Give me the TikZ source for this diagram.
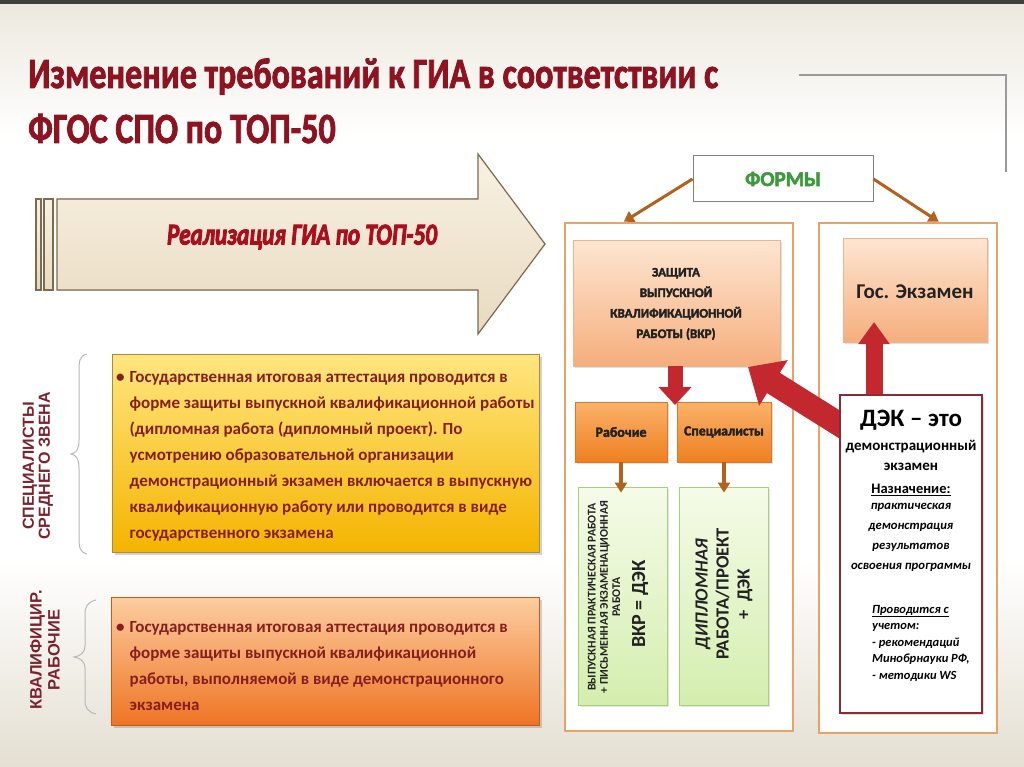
\documentclass[tikz,border=0pt]{standalone}
\usepackage{fontspec}
\setmainfont{Carlito}
\newfontfamily\arialf{Liberation Sans}
\usetikzlibrary{arrows.meta,shadows,calc}
\pgfdeclarelayer{fg}
\pgfsetlayers{main,fg}
\definecolor{titred}{HTML}{8E1321}
\definecolor{realred}{HTML}{A8101E}
\definecolor{txtred}{HTML}{861F1F}
\definecolor{sidered}{HTML}{7B2430}
\definecolor{arrbord}{HTML}{7E6A4C}
\definecolor{panelor}{HTML}{E8A468}
\definecolor{brownar}{HTML}{B2611E}
\definecolor{redar}{HTML}{C3282E}
\definecolor{formgreen}{HTML}{3C9A3C}
\definecolor{bgtop}{HTML}{ECE8DD}
\definecolor{bgbot}{HTML}{E4DFD2}
\definecolor{topbar}{HTML}{3F3F3F}
\definecolor{pchbd}{HTML}{E9B48E}
\definecolor{pchtop}{HTML}{FDE6D2}
\definecolor{pchbot}{HTML}{F6AE7C}
\definecolor{orbd}{HTML}{DA7A28}
\definecolor{ortop}{HTML}{FBB26B}
\definecolor{orbot}{HTML}{EE7F1F}
\definecolor{grbd}{HTML}{AACF7A}
\definecolor{grtop}{HTML}{F5FBE8}
\definecolor{grbot}{HTML}{D4EEAE}
\definecolor{yeltop}{HTML}{FFE680}
\definecolor{yelbot}{HTML}{F4B400}
\definecolor{yelbd}{HTML}{B08A30}
\definecolor{orgtop}{HTML}{FCCDA0}
\definecolor{orgbot}{HTML}{EF7424}
\definecolor{arrtop}{HTML}{F8F1E3}
\definecolor{arrbot}{HTML}{E8DAC0}
\definecolor{dekbd}{HTML}{8B2A35}
\definecolor{decoline}{HTML}{9A9A9A}
\definecolor{braceg}{HTML}{B8B8B8}
\definecolor{dtext}{HTML}{222222}
\newlength\twid
\newcommand\tfont{\fontsize{43}{43}\selectfont\bfseries}
\newcommand\fakebold[2][0.9]{\special{pdf:literal direct 2 Tr #1 w}#2\special{pdf:literal direct 0 Tr 1 w}}
\begin{document}
\settowidth\twid{\tfont Изменение требований к ГИА в соответствии с}
\pgfmathsetmacro\tsc{690/\twid}
\begin{tikzpicture}[x=1pt,y=-1pt,
  peach/.style={draw=pchbd, line width=0.8pt, top color=pchtop, bottom color=pchbot},
  orbox/.style={draw=orbd, line width=0.8pt, top color=ortop, bottom color=orbot},
  grbox/.style={draw=grbd, line width=0.8pt, top color=grtop, bottom color=grbot},
  panel/.style={draw=panelor, line width=2.5pt, fill=white},
  brarrow/.style={draw=brownar, line width=3pt, -{Triangle[width=12pt,length=10pt]}},
  para/.style={inner sep=0pt, align=left, text=txtred, font=\fontsize{17}{26}\selectfont\bfseries},
  sidelab/.style={rotate=90, align=center, text=sidered, inner sep=0pt},
  plain/.style={inner sep=0pt, align=center},
]
\useasboundingbox (0,0) rectangle (1024,767);
% background
\fill[top color=bgtop, bottom color=white] (0,0) rectangle (1024,140);
\fill[white] (0,140) rectangle (1024,560);
\fill[top color=white, bottom color=bgbot] (0,560) rectangle (1024,767);
\fill[topbar] (0,0) rectangle (1024,4);
% decorative corner line
\coordinate (dl1) at (799,75);
\coordinate (dl2) at (1006,75);
\coordinate (dl3) at (1006,172);
\draw[decoline, line width=1.5pt] (dl1) -- (dl2) -- (dl3);
% title
\node[anchor=base west, inner sep=0pt, text=titred] (title1) at (28,88)
  {\fakebold{\scalebox{\tsc}[1]{\tfont Изменение требований к ГИА в соответствии с}}};
\node[anchor=base west, inner sep=0pt, text=titred] (title2) at (28,143)
  {\fakebold{\scalebox{\tsc}[1]{\tfont ФГОС СПО по ТОП-50}}};
% big arrow
\filldraw[draw=arrbord, line width=1.2pt, top color=arrtop, bottom color=arrbot]
  (57,199) -- (478,199) -- (478,154) -- (545,244) -- (478,334) -- (478,290) -- (57,290) -- cycle;
\filldraw[draw=arrbord, line width=1.2pt, top color=arrtop, bottom color=arrbot] (36,199) rectangle (41,290);
\filldraw[draw=arrbord, line width=1.2pt, top color=arrtop, bottom color=arrbot] (44,199) rectangle (53,290);
\node[inner sep=0pt, text=realred] (real) at (302,237)
  {\fakebold[1.1]{\resizebox{270pt}{\height}{\fontsize{30}{30}\selectfont\bfseries\itshape Реализация ГИА по ТОП-50}}};
% side labels and braces
\node[sidelab, font=\arialf\bfseries\fontsize{16}{16}\selectfont] (lab1) at (38,466) {СПЕЦИАЛИСТЫ\\СРЕДНЕГО ЗВЕНА};
\node[sidelab, font=\arialf\bfseries\fontsize{16.5}{18}\selectfont] (lab2) at (45,650) {КВАЛИФИЦИР.\\РАБОЧИЕ};
\draw[braceg, line width=1pt] (87,354) .. controls (79,356) and (79,362) .. (79,372) -- (79,440)
  .. controls (79,450) and (76,453) .. (71,454) .. controls (76,455) and (79,458) .. (79,468) -- (79,536)
  .. controls (79,546) and (79,552) .. (87,554);
\draw[braceg, line width=1pt] (96,600) .. controls (88,602) and (85,606) .. (85,614) -- (85,646)
  .. controls (85,653) and (80,656) .. (74,657) .. controls (80,658) and (85,661) .. (85,668) -- (85,700)
  .. controls (85,708) and (88,712) .. (96,714);
% yellow box
\node[draw=yelbd, line width=0.6pt, top color=yeltop, bottom color=yelbot,
  minimum width=427pt, minimum height=198pt, inner sep=0pt,
  drop shadow={shadow xshift=3pt, shadow yshift=-3pt, opacity=0.35}] (yel) at (325.5,453) {};
\node[para, anchor=north west] (yeltxt) at (116,371.5)
 {\textbullet\hspace{5pt}Государственная итоговая аттестация проводится в\\
  \phantom{\textbullet}\hspace{5pt}форме защиты выпускной квалификационной работы\\
  \phantom{\textbullet}\hspace{5pt}(дипломная работа (дипломный проект). По\\
  \phantom{\textbullet}\hspace{5pt}усмотрению образовательной организации\\
  \phantom{\textbullet}\hspace{5pt}демонстрационный экзамен включается в выпускную\\
  \phantom{\textbullet}\hspace{5pt}квалификационную работу или проводится в виде\\
  \phantom{\textbullet}\hspace{5pt}государственного экзамена};
% orange box
\node[draw=orgbot!80!black, line width=0.6pt, top color=orgtop, bottom color=orgbot,
  minimum width=428pt, minimum height=128pt, inner sep=0pt,
  drop shadow={shadow xshift=3pt, shadow yshift=-3pt, opacity=0.35}] (org) at (325,661) {};
\node[para, anchor=north west] (orgtxt) at (116,621.5)
 {\textbullet\hspace{5pt}Государственная итоговая аттестация проводится в\\
  \phantom{\textbullet}\hspace{5pt}форме защиты выпускной квалификационной\\
  \phantom{\textbullet}\hspace{5pt}работы, выполняемой в виде демонстрационного\\
  \phantom{\textbullet}\hspace{5pt}экзамена};
% FORMS
\node[draw=gray, line width=1pt, fill=white, minimum width=180pt, minimum height=46pt, inner sep=0pt,
  text=formgreen, font=\fontsize{21}{21}\selectfont\bfseries] (forms) at (783,179) {\fakebold[0.5]{ФОРМЫ}};
% panels
\node[panel, minimum width=228pt, minimum height=508pt, inner sep=0pt] (lpanel) at (679,477) {};
\node[panel, minimum width=178pt, minimum height=510pt, inner sep=0pt] (rpanel) at (908,478) {};
\draw[brarrow] (forms.west) -- ([xshift=60pt]lpanel.north west);
\draw[brarrow] (forms.east) -- ([xshift=121pt]rpanel.north west);
% VKR box
\node[peach, minimum width=207pt, minimum height=126pt, inner sep=0pt,
  drop shadow={shadow xshift=2pt, shadow yshift=-2pt, opacity=0.25}] (vkr) at (676.5,303) {};
\node[plain, font=\fontsize{13}{20.5}\selectfont\bfseries, text=dtext] (vkrtxt) at (676,304)
  {\fakebold[0.35]{ЗАЩИТА}\\\fakebold[0.35]{ВЫПУСКНОЙ}\\\fakebold[0.35]{КВАЛИФИКАЦИОННОЙ}\\\fakebold[0.35]{РАБОТЫ (ВКР)}};
% Gos exam box
\node[peach, minimum width=144pt, minimum height=104pt, inner sep=0pt,
  drop shadow={shadow xshift=2pt, shadow yshift=-2pt, opacity=0.25}] (gos) at (915,290) {};
\node[plain, font=\fontsize{21}{21}\selectfont\bfseries, text=dtext] (gostxt) at (915,292) {Гос. Экзамен};
% workers / specialists
\node[orbox, minimum width=92pt, minimum height=60pt, inner sep=0pt,
  drop shadow={shadow xshift=2pt, shadow yshift=-2pt, opacity=0.25},
  font=\fontsize{14}{14}\selectfont\bfseries, text=dtext] (rab) at (621,432) {\fakebold[0.35]{Рабочие}};
\node[orbox, minimum width=94pt, minimum height=60pt, inner sep=0pt,
  drop shadow={shadow xshift=2pt, shadow yshift=-2pt, opacity=0.25},
  font=\fontsize{13.8}{14}\selectfont\bfseries, text=dtext] (spec) at (724,432) {\fakebold[0.35]{Специалисты}};
% green boxes
\node[grbox, minimum width=89pt, minimum height=218pt, inner sep=0pt,
  drop shadow={shadow xshift=2pt, shadow yshift=-2pt, opacity=0.2}] (grL) at (622.5,596) {};
\node[grbox, minimum width=89pt, minimum height=218pt, inner sep=0pt,
  drop shadow={shadow xshift=2pt, shadow yshift=-2pt, opacity=0.2}] (grR) at (723.5,596) {};
\node[plain, rotate=90, font=\fontsize{11.8}{12.3}\selectfont\bfseries, text=dtext] (grLs) at (604,597)
  {ВЫПУСКНАЯ ПРАКТИЧЕСКАЯ РАБОТА\\+ ПИСЬМЕННАЯ ЭКЗАМЕНАЦИОННАЯ\\РАБОТА};
\node[plain, rotate=90, font=\fontsize{20}{20}\selectfont\bfseries, text=dtext] (grLb) at (640,604) {ВКР = ДЭК};
\node[plain, rotate=90, font=\fontsize{18.5}{21}\selectfont\bfseries, text=dtext] (grRt) at (724,594)
  {\textit{ДИПЛОМНАЯ}\\РАБОТА/ПРОЕКТ\\+\ \ ДЭК};
\draw[brarrow, line width=4pt] (rab.south) -- ([yshift=-6pt]rab.south |- grL.north);
\draw[brarrow, line width=4pt] (spec.south) -- ([yshift=-6pt]spec.south |- grR.north);
% DEK box (front layer)
\begin{pgfonlayer}{fg}
\node[draw=dekbd, line width=2.5pt, fill=white, minimum width=142pt, minimum height=318pt, inner sep=0pt,
  drop shadow={shadow xshift=2pt, shadow yshift=-2pt, opacity=0.25}] (dek) at (911,554) {};
\node[plain, font=\fontsize{25}{25}\selectfont\bfseries] (dek1) at (911,420) {ДЭК – это};
\node[plain, font=\fontsize{15}{20}\selectfont\bfseries] (dek2) at (911,455) {демонстрационный\\экзамен};
\node[plain, font=\fontsize{14.5}{14.5}\selectfont\bfseries] (dek3) at (911,490) {\underline{Назначение:}};
\node[plain, font=\fontsize{12.7}{20}\selectfont\bfseries\itshape] (dek4) at (911,537)
  {практическая\\демонстрация\\результатов\\освоения программы};
\node[inner sep=0pt, align=left, anchor=west, font=\fontsize{12.5}{16.5}\selectfont\bfseries\itshape] (dek5) at (872,643)
  {\underline{Проводится с}\\учетом:\\- рекомендаций\\Минобрнауки РФ,\\- методики WS};
\end{pgfonlayer}
% red arrows
\coordinate (dntip) at (675,405);
\coordinate (uptip) at (874,322);
\coordinate (dtail) at (850,431);
\coordinate (dtip) at (748,367);
\draw[redar, line width=15pt, -{Triangle[width=32pt,length=18pt]}] (vkr.south -| dntip) -- (dntip);
\draw[redar, line width=17pt, -{Triangle[width=30pt,length=22pt]}] ([yshift=-8pt]uptip |- dek.north) -- (uptip);
\draw[redar, line width=24pt, -{Triangle[width=52pt,length=30pt]}] (dtail) -- (dtip);
\end{tikzpicture}
\end{document}
